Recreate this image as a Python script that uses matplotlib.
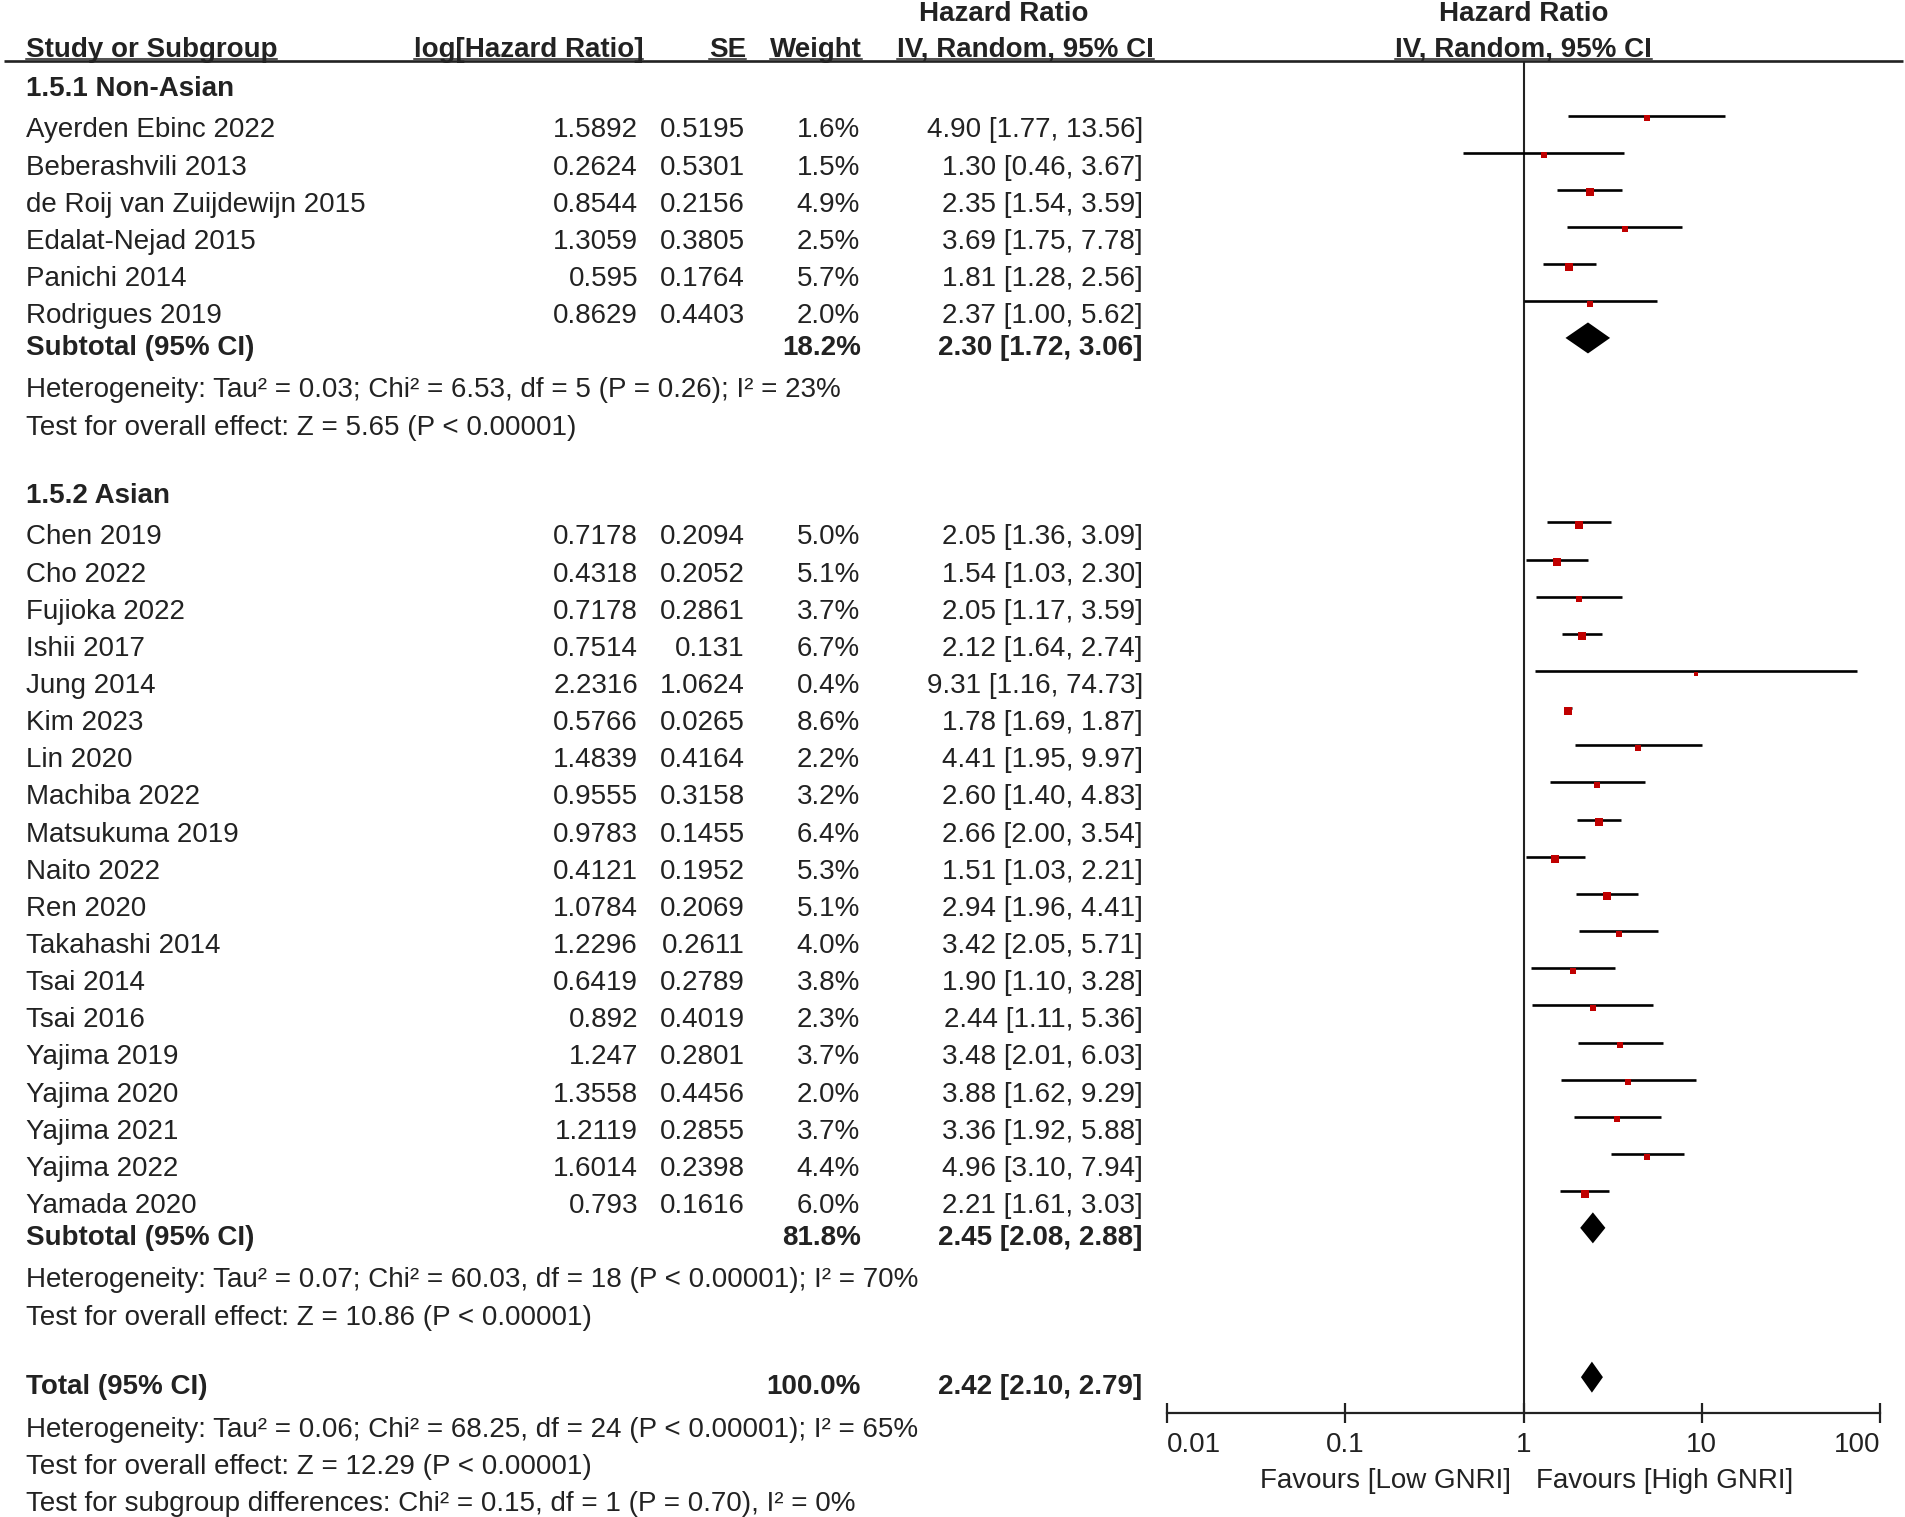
import matplotlib
matplotlib.use('Agg')
import matplotlib.pyplot as plt
from matplotlib.ticker import NullLocator
from matplotlib.transforms import blended_transform_factory, offset_copy

plt.rcParams['font.family'] = ['Liberation Sans', 'DejaVu Sans']

# ---------------- data ----------------
na_names = ['Ayerden Ebinc 2022', 'Beberashvili 2013', 'de Roij van Zuijdewijn 2015',
            'Edalat-Nejad 2015', 'Panichi 2014', 'Rodrigues 2019']
na_loghr = [1.5892, 0.2624, 0.8544, 1.3059, 0.595, 0.8629]
na_se = [0.5195, 0.5301, 0.2156, 0.3805, 0.1764, 0.4403]
na_weight = [1.6, 1.5, 4.9, 2.5, 5.7, 2.0]
na_hr = [4.90, 1.30, 2.35, 3.69, 1.81, 2.37]
na_lo = [1.77, 0.46, 1.54, 1.75, 1.28, 1.00]
na_hi = [13.56, 3.67, 3.59, 7.78, 2.56, 5.62]

as_names = ['Chen 2019', 'Cho 2022', 'Fujioka 2022', 'Ishii 2017', 'Jung 2014', 'Kim 2023',
            'Lin 2020', 'Machiba 2022', 'Matsukuma 2019', 'Naito 2022', 'Ren 2020',
            'Takahashi 2014', 'Tsai 2014', 'Tsai 2016', 'Yajima 2019', 'Yajima 2020',
            'Yajima 2021', 'Yajima 2022', 'Yamada 2020']
as_loghr = [0.7178, 0.4318, 0.7178, 0.7514, 2.2316, 0.5766, 1.4839, 0.9555, 0.9783, 0.4121,
            1.0784, 1.2296, 0.6419, 0.892, 1.247, 1.3558, 1.2119, 1.6014, 0.793]
as_se = [0.2094, 0.2052, 0.2861, 0.131, 1.0624, 0.0265, 0.4164, 0.3158, 0.1455, 0.1952,
         0.2069, 0.2611, 0.2789, 0.4019, 0.2801, 0.4456, 0.2855, 0.2398, 0.1616]
as_weight = [5.0, 5.1, 3.7, 6.7, 0.4, 8.6, 2.2, 3.2, 6.4, 5.3, 5.1, 4.0, 3.8, 2.3, 3.7, 2.0,
             3.7, 4.4, 6.0]
as_hr = [2.05, 1.54, 2.05, 2.12, 9.31, 1.78, 4.41, 2.60, 2.66, 1.51, 2.94, 3.42, 1.90, 2.44,
         3.48, 3.88, 3.36, 4.96, 2.21]
as_lo = [1.36, 1.03, 1.17, 1.64, 1.16, 1.69, 1.95, 1.40, 2.00, 1.03, 1.96, 2.05, 1.10, 1.11,
         2.01, 1.62, 1.92, 3.10, 1.61]
as_hi = [3.09, 2.30, 3.59, 2.74, 74.73, 1.87, 9.97, 4.83, 3.54, 2.21, 4.41, 5.71, 3.28, 5.36,
         6.03, 9.29, 5.88, 7.94, 3.03]

group_titles = ['1.5.1 Non-Asian', '1.5.2 Asian']
sub_weight = [18.2, 81.8]
sub_hr = [2.30, 2.45]
sub_lo = [1.72, 2.08]
sub_hi = [3.06, 2.88]
sub_het = ['Heterogeneity: Tau² = 0.03; Chi² = 6.53, df = 5 (P = 0.26); I² = 23%',
           'Heterogeneity: Tau² = 0.07; Chi² = 60.03, df = 18 (P < 0.00001); I² = 70%']
sub_test = ['Test for overall effect: Z = 5.65 (P < 0.00001)',
            'Test for overall effect: Z = 10.86 (P < 0.00001)']

total_weight = 100.0
total_hr = 2.42
total_lo = 2.10
total_hi = 2.79
total_notes = ['Heterogeneity: Tau² = 0.06; Chi² = 68.25, df = 24 (P < 0.00001); I² = 65%',
               'Test for overall effect: Z = 12.29 (P < 0.00001)',
               'Test for subgroup differences: Chi² = 0.15, df = 1 (P = 0.70), I² = 0%']

tick_vals = [0.01, 0.1, 1, 10, 100]
tick_labels = ['0.01', '0.1', '1', '10', '100']
favours = ['Favours [Low GNRI]', 'Favours [High GNRI]']

# ---------------- layout ----------------
W, H = 1905, 1517
FS = 20
TC = '#222222'
BL = 0.716 * FS * 100 / 72 / 2     # half cap height in px
RED = '#c00000'

X_NAME = 25.5
X_LOG, X_SE, X_W, X_CI = 638, 745, 860, 1143

fig = plt.figure(figsize=(W / 100, H / 100), dpi=100)
tx = fig.add_axes([0, 0, 1, 1])
tx.set_xlim(0, W)
tx.set_ylim(H, 0)
tx.axis('off')

AX_L, AX_R, AX_TOP, AX_BOT = 1167, 1880, 61, 1413
fa = fig.add_axes([AX_L / W, 1 - AX_BOT / H, (AX_R - AX_L) / W, (AX_BOT - AX_TOP) / H])
fa.set_xscale('log')
fa.set_xlim(0.01, 100)
fa.set_ylim(AX_BOT, AX_TOP)
fa.patch.set_alpha(0)
for s in ['top', 'left', 'right']:
    fa.spines[s].set_visible(False)
fa.spines['bottom'].set_linewidth(1.6)
fa.spines['bottom'].set_color(TC)
fa.set_yticks([])
fa.set_xticks(tick_vals, labels=tick_labels)
fa.xaxis.set_minor_locator(NullLocator())
fa.tick_params(axis='x', direction='inout', length=13.7, width=1.6, pad=7,
               labelsize=FS, colors=TC)
labs = fa.get_xticklabels()
labs[0].set_horizontalalignment('left')
labs[-1].set_horizontalalignment('right')
fa.axvline(1, color=TC, lw=1.5, zorder=1)

mix = blended_transform_factory(fa.transData, tx.transData)


def put(x, yc, s, ha='left', bold=False, baseline=None):
    y = yc + BL if baseline is None else baseline
    return tx.text(x, y, s, ha=ha, va='baseline', fontsize=FS, color=TC,
                   fontweight='bold' if bold else 'normal')


# headers
HB1, HB2 = 20.7, 56.5
put(1004, 0, 'Hazard Ratio', ha='center', bold=True, baseline=HB1)
fa.text(1, HB1, 'Hazard Ratio', transform=mix, ha='center', va='baseline',
        fontsize=FS, fontweight='bold', color=TC)
under = [put(X_NAME, 0, 'Study or Subgroup', bold=True, baseline=HB2),
         put(643, 0, 'log[Hazard Ratio]', ha='right', bold=True, baseline=HB2),
         put(746, 0, 'SE', ha='right', bold=True, baseline=HB2),
         put(862, 0, 'Weight', ha='right', bold=True, baseline=HB2),
         put(1154, 0, 'IV, Random, 95% CI', ha='right', bold=True, baseline=HB2),
         fa.text(1, HB2, 'IV, Random, 95% CI', transform=mix, ha='center', va='baseline',
                 fontsize=FS, fontweight='bold', color=TC)]
tx.plot([4, W - 2], [61, 61], color=TC, lw=1.9, solid_capstyle='butt')

STEP = 37.15


def study_rows(y, names, loghr, se, weight, hr, lo, hi):
    for i in range(len(names)):
        put(X_NAME, y, names[i])
        put(X_LOG, y, str(loghr[i]), ha='right')
        put(X_SE, y, str(se[i]), ha='right')
        put(X_W, y, f'{weight[i]:.1f}%', ha='right')
        put(X_CI, y, f'{hr[i]:.2f} [{lo[i]:.2f}, {hi[i]:.2f}]', ha='right')
        fa.hlines(y - 12, lo[i], hi[i], color='black', lw=1.9, zorder=2)
        side = 2.7 + 1.95 * weight[i] ** 0.5
        fa.plot([hr[i]], [y - 9.5], marker='s', ms=side * 0.72, color=RED, mew=0,
                ls='none', zorder=3)
        if i < len(names) - 1:
            y += STEP
    return y


def diamond(y, est, lo, hi):
    yc = y - 7
    fa.fill([lo, est, hi, est], [yc, yc - 15.5, yc, yc + 15.5], color='black', lw=0,
            zorder=3)


groups = [(na_names, na_loghr, na_se, na_weight, na_hr, na_lo, na_hi),
          (as_names, as_loghr, as_se, as_weight, as_hr, as_lo, as_hi)]
y = 86
for g, data in enumerate(groups):
    put(X_NAME, y, group_titles[g], bold=True)
    y = study_rows(y + 41.5, *data)
    y += 31.7
    put(X_NAME, y, 'Subtotal (95% CI)', bold=True)
    put(X_W + 1, y, f'{sub_weight[g]:.1f}%', ha='right', bold=True)
    put(X_CI - 1, y, f'{sub_hr[g]:.2f} [{sub_lo[g]:.2f}, {sub_hi[g]:.2f}]', ha='right',
        bold=True)
    diamond(y, sub_hr[g], sub_lo[g], sub_hi[g])
    y += 42.5
    put(X_NAME, y, sub_het[g])
    y += 37.5
    put(X_NAME, y, sub_test[g])
    y += 68

y += 1.3
put(X_NAME, y, 'Total (95% CI)', bold=True)
put(X_W + 1, y, f'{total_weight:.1f}%', ha='right', bold=True)
put(X_CI - 1, y, f'{total_hr:.2f} [{total_lo:.2f}, {total_hi:.2f}]', ha='right', bold=True)
diamond(y, total_hr, total_lo, total_hi)
y += 42.5
for note in total_notes:
    put(X_NAME, y, note)
    y += 37.3

# favours labels, offset from the null line
left_tr = offset_copy(mix, fig=fig, x=-9, y=0, units='points')
right_tr = offset_copy(mix, fig=fig, x=9, y=0, units='points')
fa.text(1, 1478 + BL, favours[0], transform=left_tr, ha='right', va='baseline',
        fontsize=FS, color=TC)
fa.text(1, 1478 + BL, favours[1], transform=right_tr, ha='left', va='baseline',
        fontsize=FS, color=TC)

# underline header labels
fig.canvas.draw()
r = fig.canvas.get_renderer()
inv = tx.transData.inverted()
for t in under:
    bb = t.get_window_extent(r).transformed(inv)
    tx.plot([bb.x0, bb.x1], [HB2 + 2.5, HB2 + 2.5], color=TC, lw=1.1)

fig.savefig('out.png', dpi=100)
